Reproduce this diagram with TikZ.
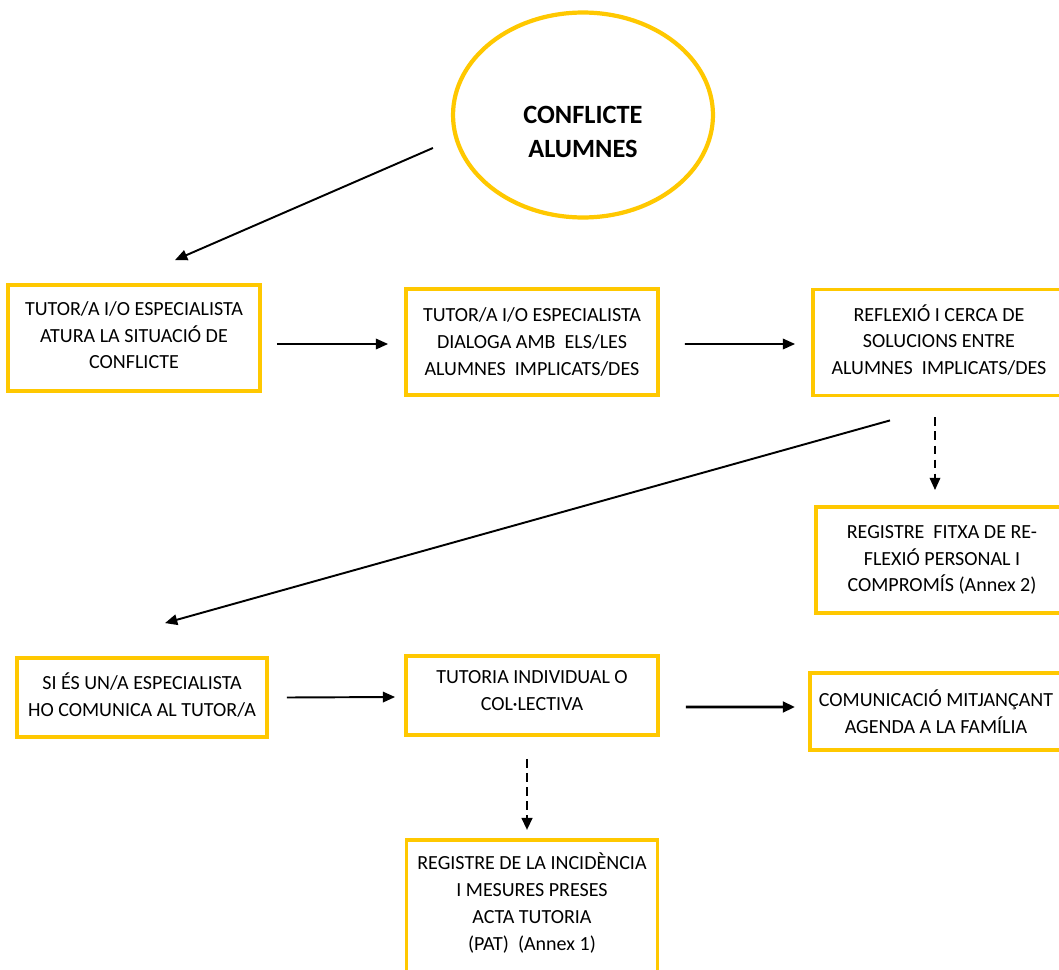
\documentclass[tikz,border=0pt]{standalone}
\usepackage{fontspec}
\setmainfont{Carlito}
\usepackage{tikz}
\usetikzlibrary{arrows.meta,positioning,calc,shapes.geometric}
\definecolor{boxgold}{RGB}{255,200,0}

\begin{document}
\begin{tikzpicture}[x=0.02cm,y=-0.02cm,
    box/.style={draw=boxgold, line width=2.2pt, align=center,
                font=\fontsize{11.4}{15.3}\selectfont, inner sep=2pt},
    arr/.style={line width=1.1pt, -{Triangle[length=7pt,width=6pt]}},
    dasharr/.style={arr, dash pattern=on 5pt off 3pt}]
  \useasboundingbox (0,0) rectangle (1059,970);
  \clip (0,0) rectangle (1059,970);
  % Start
  \node[draw=boxgold, line width=2.4pt, ellipse, minimum width=5.2cm,
        minimum height=4.1cm] (conf) at (583,115) {};
  \node[align=center, font=\fontsize{15}{19.8}\selectfont\bfseries] (title)
    at (583,132) {CONFLICTE\\ALUMNES};
  % Row 1
  \node[box, minimum width=5.04cm, minimum height=2.12cm] (atura) at (134,338)
    {TUTOR/A I/O ESPECIALISTA\\ATURA LA SITUACIÓ DE\\CONFLICTE\\[-12pt]};
  \node[box, minimum width=5.04cm, minimum height=2.12cm] (dialoga) at (532,342)
    {TUTOR/A I/O ESPECIALISTA\\DIALOGA AMB\ \ ELS/LES\\ALUMNES\ \ IMPLICATS/DES};
  \node[box, minimum width=5.04cm, minimum height=2.12cm] (refl) at (939,342.5)
    {REFLEXIÓ I CERCA DE\\SOLUCIONS ENTRE\\ALUMNES\ \ IMPLICATS/DES\\[-12pt]};
  \node[box, minimum width=5.04cm, minimum height=2.12cm] (fitxa) at (942,560)
    {REGISTRE\ \ FITXA DE RE-\\FLEXIÓ PERSONAL I\\COMPROMÍS (Annex 2)};
  % Row 2
  \node[box, minimum width=5.0cm, minimum height=1.58cm] (si) at (142,697.5)
    {SI ÉS UN/A ESPECIALISTA\\HO COMUNICA AL TUTOR/A\\[-12pt]};
  \node[box, minimum width=5.04cm, minimum height=1.58cm] (tutoria) at (532,695.5)
    {TUTORIA INDIVIDUAL O\\COL·LECTIVA\\[-9.5pt]};
  \node[box, minimum width=5.04cm, minimum height=1.54cm] (comun) at (936,711.5)
    {COMUNICACIÓ MITJANÇANT\\AGENDA A LA FAMÍLIA};
  \node[box, minimum width=5.02cm, minimum height=2.8cm] (registre) at (532,910)
    {REGISTRE DE LA INCIDÈNCIA\\I MESURES PRESES\\ACTA TUTORIA\\(PAT)\ \ (Annex 1)\\[-6pt]};
  % Arrows
  \draw[arr] ($(conf.west)+(-18,33)$) -- ($(atura.north)+(41,-23)$);
  \draw[arr] ($(atura.east)+(15,6)$) -- ($(dialoga.west)+(-16,2)$);
  \draw[arr] ($(dialoga.east)+(25,2)$) -- ($(refl.west)+(-16,1.5)$);
  \draw[arr] ($(refl.south)+(-49,23)$) -- ($(si.north)+(23,-33)$);
  \draw[dasharr] ($(refl.south)+(-4,20)$) -- ($(fitxa.north)+(-7,-15)$);
  \draw[arr] ($(si.east)+(18,0)$) -- ($(tutoria.west)+(-9,1.5)$);
  \draw[arr, line width=1.7pt] ($(tutoria.east)+(26,11.5)$) -- ($(comun.west)+(-13,-4.5)$);
  \draw[dasharr, line width=1.6pt] ($(tutoria.south)+(-5,22)$) -- ($(registre.north)+(-5,-8)$);
\end{tikzpicture}
\end{document}
